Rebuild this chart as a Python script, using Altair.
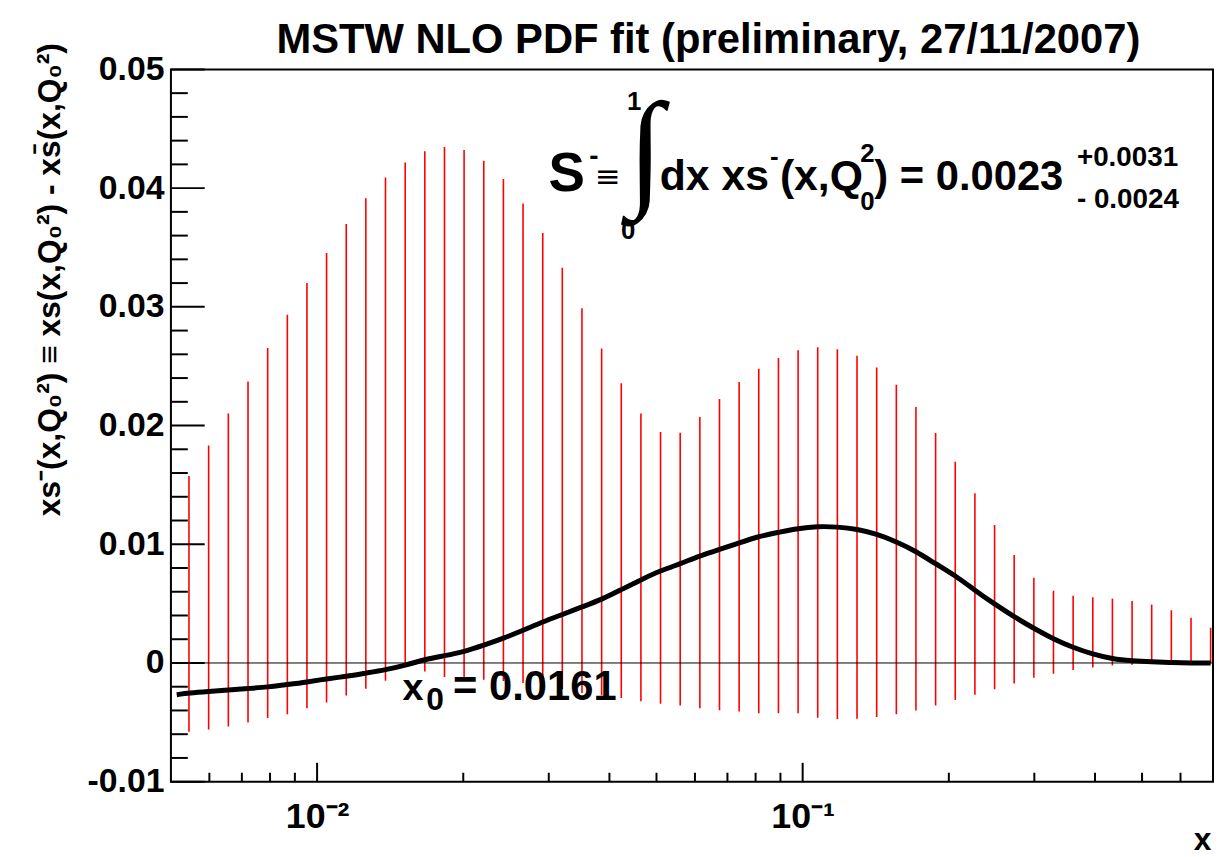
import altair as alt
import pandas as pd

# ---------------- data ----------------
x_grid = [0.005447, 0.005979, 0.006565, 0.007207, 0.007911, 0.008685, 0.009530, 0.010459, 0.011482, 0.012600,
          0.013831, 0.015186, 0.016667, 0.018296, 0.020079, 0.022043, 0.024195, 0.026555, 0.029155, 0.031989,
          0.035116, 0.038548, 0.042309, 0.046442, 0.050966, 0.055949, 0.061418, 0.067407, 0.073996, 0.081209,
          0.089148, 0.097860, 0.10740, 0.11790, 0.12940, 0.14205, 0.15593, 0.17112, 0.18785, 0.20617,
          0.22632, 0.24845, 0.27267, 0.29933, 0.32851, 0.36060, 0.39584, 0.43441, 0.47689, 0.52336,
          0.57451, 0.63068, 0.69215]

upper = [0.01574, 0.01831, 0.02101, 0.02372, 0.02654, 0.02933, 0.03201, 0.03454, 0.03697, 0.03915,
         0.04090, 0.04216, 0.04310, 0.04346, 0.04322, 0.04230, 0.04076, 0.03870, 0.03622, 0.03329,
         0.02988, 0.02649, 0.02356, 0.02101, 0.01946, 0.01940, 0.02071, 0.02224, 0.02367, 0.02478,
         0.02570, 0.02634, 0.02659, 0.02643, 0.02587, 0.02490, 0.02344, 0.02157, 0.01937, 0.01695,
         0.01429, 0.01162, 0.00910, 0.00718, 0.00609, 0.00567, 0.00553, 0.00542, 0.00523, 0.00492,
         0.00444, 0.00381, 0.00297]

lower = [-0.00579, -0.00560, -0.00535, -0.00501, -0.00464, -0.00431, -0.00381, -0.00334, -0.00275, -0.00217,
         -0.00150, -0.00030, -0.00071, -0.00119, -0.00127, -0.00141, -0.00152, -0.00169, -0.00194, -0.00219,
         -0.00253, -0.00272, -0.00295, -0.00322, -0.00343, -0.00359, -0.00381, -0.00399, -0.00409, -0.00423,
         -0.00423, -0.00423, -0.00462, -0.00473, -0.00470, -0.00456, -0.00431, -0.00401, -0.00359, -0.00311,
         -0.00267, -0.00221, -0.00173, -0.00125, -0.00091, -0.00060, -0.00038, -0.00021, -0.00016, -0.00008,
         -0.00002, 0.00002, -0.00002]

curve_x = [0.00514] + x_grid
curve_y = [-0.00267,
           -0.00253, -0.00240, -0.00228, -0.00215, -0.00203, -0.00182, -0.00161, -0.00133, -0.00113, -0.00085,
           -0.00058, -0.00020, 0.00030, 0.00061, 0.00095, 0.00149, 0.00208, 0.00274, 0.00347, 0.00408,
           0.00473, 0.00534, 0.00618, 0.00701, 0.00777, 0.00836, 0.00902, 0.00956, 0.01011, 0.01067,
           0.01100, 0.01134, 0.01151, 0.01147, 0.01128, 0.01086, 0.01022, 0.00941, 0.00835, 0.00737,
           0.00612, 0.00496, 0.00389, 0.00291, 0.00202, 0.00130, 0.00074, 0.00034, 0.00018, 0.00009,
           0.00003, 0.0, 0.0]

y_major = [-0.01, 0.0, 0.01, 0.02, 0.03, 0.04, 0.05]
y_minor = [-0.008, -0.006, -0.004, -0.002, 0.002, 0.004, 0.006, 0.008, 0.012, 0.014, 0.016, 0.018,
           0.022, 0.024, 0.026, 0.028, 0.032, 0.034, 0.036, 0.038, 0.042, 0.044, 0.046, 0.048]
x_major = [0.01, 0.1]
x_minor = [0.006, 0.007, 0.008, 0.009, 0.02, 0.03, 0.04, 0.05, 0.06, 0.07, 0.08, 0.09,
           0.2, 0.3, 0.4, 0.5, 0.6, 0.7]

title_text = "MSTW NLO PDF fit (preliminary, 27/11/2007)"
y_title = "xs\u207b(x,Q\u2080\u00b2) \u2261 xs(x,Q\u2080\u00b2) - xs\u0304(x,Q\u2080\u00b2)"

# ---------------- layout ----------------
W, H = 1049, 717
L, T = 172, 67            # page position of the plot area
FONT = "Liberation Sans"

xscale = alt.Scale(type="log", domain=[0.005, 0.7], nice=False)
yscale = alt.Scale(domain=[-0.01, 0.05], nice=False, zero=False)

bars_df = pd.DataFrame({"x": x_grid, "lo": lower, "hi": upper})
curve_df = pd.DataFrame({"x": curve_x, "y": curve_y})

xaxis = alt.Axis(values=x_major,
                 labelExpr="datum.value < 0.05 ? '10\u207b\u00b2' : '10\u207b\u00b9'",
                 ticks=False, domain=False, grid=False,
                 labelFont=FONT, labelFontWeight="bold", labelFontSize=36, labelColor="black",
                 labelPadding=18, labelBaseline="top",
                 title="x", titleFont=FONT, titleFontWeight="bold", titleFontSize=32,
                 titleColor="black", titleAlign="right", titleBaseline="alphabetic",
                 titleX=W - 2, titleY=68)

yaxis = alt.Axis(values=y_major,
                 labelExpr="datum.value < 0 ? '-' + format(-datum.value, '.2f') : (datum.value == 0 ? '0' : format(datum.value, '.2f'))",
                 ticks=False, domain=False, grid=False,
                 labelFont=FONT, labelFontWeight="bold", labelFontSize=34, labelColor="black",
                 labelPadding=7,
                 title=y_title, titleFont=FONT, titleFontWeight="bold", titleFontSize=32,
                 titleColor="black", titleAngle=270, titleAlign="right", titleBaseline="alphabetic",
                 titleX=-112, titleY=-27)

bars = alt.Chart(bars_df).mark_rule(color="#ff0000", strokeWidth=1.6).encode(
    x=alt.X("x:Q", scale=xscale, axis=xaxis),
    y=alt.Y("lo:Q", scale=yscale, axis=yaxis),
    y2="hi:Q",
)

zero_line = alt.Chart(pd.DataFrame({"v": [0.0]})).mark_rule(color="black", strokeWidth=1).encode(
    y=alt.Y("v:Q", scale=yscale, axis=yaxis)
)

curve = alt.Chart(curve_df).mark_line(color="black", strokeWidth=5, interpolate="basis").encode(
    x=alt.X("x:Q", scale=xscale, axis=xaxis),
    y=alt.Y("y:Q", scale=yscale, axis=yaxis),
)

def yticks(vals, length):
    return alt.Chart(pd.DataFrame({"v": vals})).mark_rule(color="black", strokeWidth=2).encode(
        y=alt.Y("v:Q", scale=yscale, axis=yaxis), x=alt.value(0), x2=alt.value(length))

def xticks(vals, length):
    return alt.Chart(pd.DataFrame({"v": vals})).mark_rule(color="black", strokeWidth=2).encode(
        x=alt.X("v:Q", scale=xscale, axis=xaxis), y=alt.value(H), y2=alt.value(H - length))

one = pd.DataFrame({"a": [0]})

def txt(s, px, py, size, align="left", baseline="alphabetic", font=FONT, weight="bold"):
    return alt.Chart(one).mark_text(text=s, font=font, fontSize=size, fontWeight=weight,
                                    align=align, baseline=baseline, color="black").encode(
        x=alt.value(px - L), y=alt.value(py - T))

texts = [
    txt(title_text, 713, 50, 42, align="center"),
    txt("S", 552, 189, 55),
    txt("-", 593, 163, 28),
    txt("\u2261", 599, 185, 31, font="DejaVu Sans", weight="normal"),
    txt("\u222b", 650, 151, 130, align="center", baseline="middle", font="Liberation Serif", weight="normal"),
    txt("1", 631, 108, 26),
    txt("0", 625, 238, 26),
    txt("dx xs", 664, 188, 43),
    txt("-", 775, 163, 26),
    txt("(x,Q", 785, 188, 43),
    txt("2", 866, 160, 26),
    txt("0", 866, 209, 26),
    txt(") = 0.0023", 880, 188, 42),
    txt("+0.0031", 1084, 164, 28),
    txt("- 0.0024", 1084, 207, 28),
    txt("x", 405, 702, 38),
    txt("0", 429, 712, 32),
    txt("= 0.0161", 456, 702, 42),
]

chart = alt.layer(
    bars, zero_line, curve,
    yticks(y_major, 34), yticks(y_minor, 17),
    xticks(x_major, 19), xticks(x_minor, 9),
    *texts,
).properties(
    width=W, height=H,
    autosize=alt.AutoSizeParams(type="none"),
    padding={"left": L - 8, "top": T - 8, "right": 2, "bottom": 73},
    background="white",
).configure_view(stroke="black", strokeWidth=2)

chart.save("out.html", embed_options={"renderer": "svg", "actions": False})
